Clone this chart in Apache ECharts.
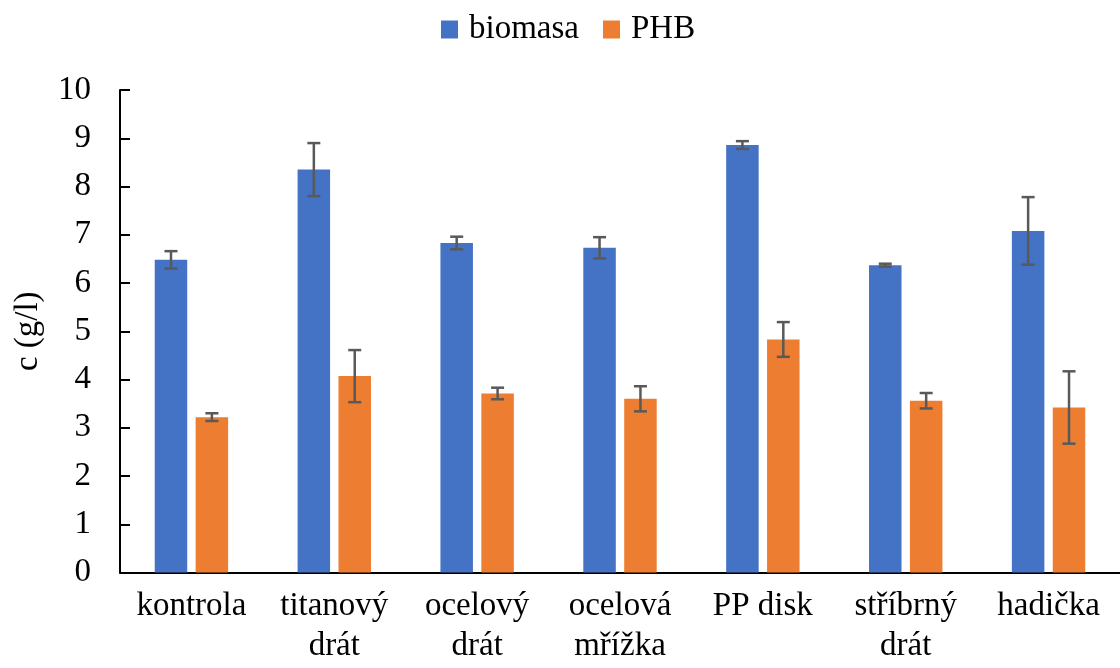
<!DOCTYPE html>
<html>
<head>
<meta charset="utf-8">
<script src="https://cdn.jsdelivr.net/npm/echarts@6/dist/echarts.min.js"></script>
<style>html,body{margin:0;padding:0;background:#fff}#c{width:1120px;height:668px}</style>
</head>
<body>
<div id="c"></div>
<script>
const categories = ['kontrola', 'titanový\ndrát', 'ocelový\ndrát', 'ocelová\nmřížka', 'PP disk', 'stříbrný\ndrát', 'hadička'];
const seriesNames = ['biomasa', 'PHB'];
const biomasa = [6.48, 8.35, 6.83, 6.73, 8.86, 6.37, 7.08];
const biomasaErr = [0.18, 0.55, 0.13, 0.22, 0.08, 0.03, 0.70];
const phb = [3.22, 4.07, 3.71, 3.60, 4.83, 3.56, 3.42];
const phbErr = [0.08, 0.54, 0.12, 0.26, 0.36, 0.16, 0.75];
const yTicks = [0, 1, 2, 3, 4, 5, 6, 7, 8, 9, 10];

const FONT = 'Liberation Serif';
const BAR_W = 32.5;
const BAR_GAP_PX = 8.4;
const offsets = [-(BAR_W + BAR_GAP_PX) / 2, (BAR_W + BAR_GAP_PX) / 2];

function errData(vals, errs) {
  return vals.map((v, i) => [i, v - errs[i], v + errs[i]]);
}
function errSeries(vals, errs, k) {
  return {
    type: 'custom',
    name: seriesNames[k] + ' err',
    data: errData(vals, errs),
    z: 10,
    silent: true,
    renderItem: function (params, api) {
      const i = api.value(0);
      const lo = api.coord([i, api.value(1)]);
      const hi = api.coord([i, api.value(2)]);
      const x = lo[0] + offsets[k];
      const cw = 6.5;
      const st = { stroke: '#595959', lineWidth: 2.5 };
      return {
        type: 'group',
        children: [
          { type: 'line', shape: { x1: x, y1: lo[1], x2: x, y2: hi[1] }, style: st },
          { type: 'line', shape: { x1: x - cw, y1: lo[1], x2: x + cw, y2: lo[1] }, style: st },
          { type: 'line', shape: { x1: x - cw, y1: hi[1], x2: x + cw, y2: hi[1] }, style: st }
        ]
      };
    }
  };
}

const chart = echarts.init(document.getElementById('c'), null, { renderer: 'canvas' });
chart.setOption({
  animation: false,
  backgroundColor: '#fff',
  textStyle: { fontFamily: FONT },
  legend: {
    data: seriesNames,
    top: 8,
    left: 436,
    itemWidth: 17,
    itemHeight: 18,
    itemGap: 24,
    textStyle: { fontFamily: FONT, fontSize: 33, color: '#000', padding: [0, 0, 0, 6] },
    icon: 'rect'
  },
  grid: { left: 120, top: 90, width: 1011.5, height: 482.5, containLabel: false },
  xAxis: {
    type: 'category',
    data: categories,
    axisLine: { lineStyle: { color: '#000', width: 2 } },
    axisTick: { alignWithLabel: true, length: 7, lineStyle: { color: '#000', width: 2 } },
    axisLabel: { fontFamily: FONT, fontSize: 33, color: '#000', margin: 14, lineHeight: 40, interval: 0 }
  },
  yAxis: {
    type: 'value',
    min: 0, max: 10, interval: 1,
    name: 'c (g/l)',
    nameLocation: 'middle',
    nameGap: 75,
    nameTextStyle: { fontFamily: FONT, fontSize: 33, color: '#000' },
    axisLine: { show: true, lineStyle: { color: '#000', width: 2 } },
    axisTick: { show: true, inside: true, length: 10, lineStyle: { color: '#000', width: 2 } },
    splitLine: { show: false },
    axisLabel: { fontFamily: FONT, fontSize: 33, color: '#000', margin: 29,
      formatter: v => yTicks.includes(v) ? String(v) : '' }
  },
  series: [
    { type: 'bar', name: seriesNames[0], data: biomasa, barWidth: BAR_W, barGap: (BAR_GAP_PX / BAR_W * 100) + '%', itemStyle: { color: '#4472C4' } },
    { type: 'bar', name: seriesNames[1], data: phb, barWidth: BAR_W, itemStyle: { color: '#ED7D31' } },
    errSeries(biomasa, biomasaErr, 0),
    errSeries(phb, phbErr, 1)
  ]
});
</script>
</body>
</html>
